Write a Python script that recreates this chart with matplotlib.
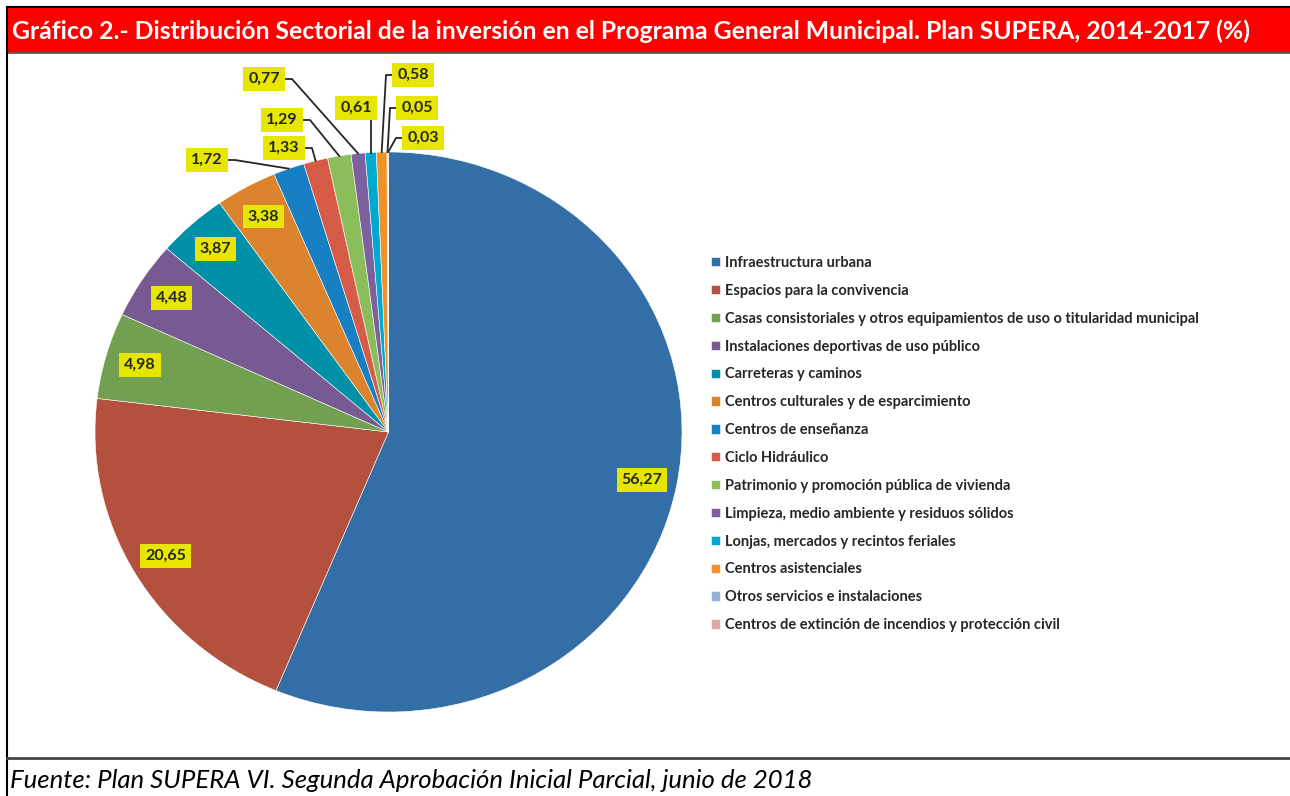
import numpy as np
import matplotlib.pyplot as plt
from matplotlib.patches import Rectangle

plt.rcParams['font.family'] = ['Lato', 'DejaVu Sans']

# data (clockwise from 12 o'clock)
sectors = ['Infraestructura urbana',
           'Espacios para la convivencia',
           'Casas consistoriales y otros equipamientos de uso o titularidad municipal',
           'Instalaciones deportivas de uso público',
           'Carreteras y caminos',
           'Centros culturales y de esparcimiento',
           'Centros de enseñanza',
           'Ciclo Hidráulico',
           'Patrimonio y promoción pública de vivienda',
           'Limpieza, medio ambiente y residuos sólidos',
           'Lonjas, mercados y recintos feriales',
           'Centros asistenciales',
           'Otros servicios e instalaciones',
           'Centros de extinción de incendios y protección civil']
values = [56.27, 20.65, 4.98, 4.48, 3.87, 3.38, 1.72, 1.33, 1.29, 0.77, 0.61, 0.58, 0.05, 0.03]
colors = ['#336EA6', '#B3503E', '#73A050', '#775A91', '#0090A8', '#DB832D', '#1780C2',
          '#D75C47', '#8BBE5A', '#7D619F', '#00A9CE', '#F0922B', '#94B3D2', '#DDA9A7']

title = 'Gráfico 2.- Distribución Sectorial de la inversión en el Programa General Municipal. Plan SUPERA, 2014-2017 (%)'
source = 'Fuente: Plan SUPERA VI. Segunda Aprobación Inicial Parcial, junio de 2018'

# layout, in pixels (y down)
W, H = 1290, 796
cx, cy, rx, ry = 388.5, 432, 293.5, 280
n_inside = 6
# outside label positions and where the leader line leaves the box
outside_pos = [(207, 160, 'right'), (284, 148, 'right'), (282, 120, 'right'),
               (264, 79, 'right'), (356, 108, 'bottom'), (413, 75, 'left'),
               (417, 108, 'left'), (423, 138, 'left')]

fig = plt.figure(figsize=(W / 100, H / 100), dpi=100)

# background / frame
bg = fig.add_axes([0, 0, 1, 1], zorder=0)
bg.set_xlim(0, W)
bg.set_ylim(H, 0)
bg.axis('off')
bg.add_patch(Rectangle((7, 7), W, 46, facecolor='#FF0000', edgecolor='none'))
bg.plot([7, W], [7, 7], color='black', lw=1.5)
bg.plot([7, W], [53, 53], color='#555555', lw=1.2)
bg.plot([7, 7], [7, H], color='black', lw=1.5)
bg.plot([7, W], [758, 758], color='#444444', lw=2)
bg.text(12, 31, title, color='white', fontsize=17.8, fontweight='bold', va='center', ha='left')
bg.text(10, 781, source, color='black', fontsize=18.5, style='italic', va='center', ha='left')

# pie
ax = fig.add_axes([(cx - rx) / W, (H - cy - ry) / H, 2 * rx / W, 2 * ry / H], zorder=1)
wedges, _ = ax.pie(values, colors=colors, startangle=90, counterclock=False,
                   wedgeprops=dict(edgecolor='white', linewidth=0.4))
ax.set_aspect('auto')
ax.set_xlim(-1, 1)
ax.set_ylim(-1, 1)
ax.axis('off')

# labels on top
top = fig.add_axes([0, 0, 1, 1], zorder=2)
top.set_xlim(0, W)
top.set_ylim(H, 0)
top.axis('off')
top.patch.set_visible(False)

box = dict(boxstyle='square,pad=0.3', facecolor='#E6E600', edgecolor='none')
cum = np.cumsum([0] + values[:-1])
total = sum(values)
for i, v in enumerate(values):
    mid = np.deg2rad(90 - (cum[i] + v / 2) / total * 360)
    txt = f'{v:.2f}'.replace('.', ',')
    if i < n_inside:
        r = 0.88
        lx, ly = cx + r * rx * np.cos(mid), cy - r * ry * np.sin(mid)
        top.text(lx, ly, txt, fontsize=11.5, fontweight='bold', color='#262626',
                 ha='center', va='center', bbox=box)
    else:
        lx, ly, side = outside_pos[i - n_inside]
        ex, ey = cx + rx * np.cos(mid), cy - ry * np.sin(mid)
        if side == 'right':
            xs = [lx + 21, lx + 28, ex]
            ys = [ly, ly, ey]
        elif side == 'left':
            xs = [lx - 21, lx - 27, ex]
            ys = [ly, ly, ey]
        else:
            xs = [ex, ex]
            ys = [ly + 12, ey]
        top.plot(xs, ys, color='#262626', lw=1.3)
        top.text(lx, ly, txt, fontsize=11.5, fontweight='bold', color='#262626',
                 ha='center', va='center', bbox=box)

fig.legend(wedges, sectors, loc='upper left', bbox_to_anchor=(711 / W, 1 - 256 / H),
           frameon=False, handlelength=0.6, handleheight=0.6,
           handletextpad=0.35, labelspacing=0.95, borderpad=0, borderaxespad=0,
           prop=dict(weight='bold', size=10.5), labelcolor='#262626')

fig.savefig('out.png', dpi=100)
